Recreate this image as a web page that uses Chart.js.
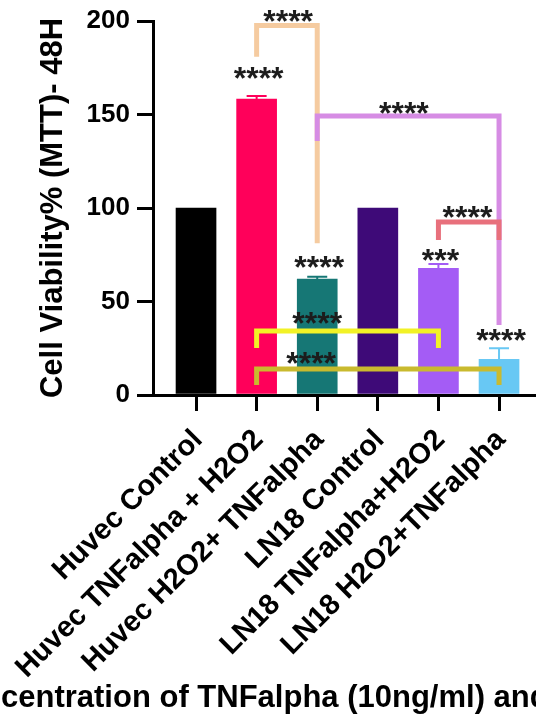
<!DOCTYPE html>
<html>
<head>
<meta charset="utf-8">
<script src="https://cdn.jsdelivr.net/npm/chart.js@4"></script>
<style>
  html, body { margin: 0; padding: 0; background: #ffffff; }
  #wrap { width: 536px; height: 718px; position: relative; }
</style>
</head>
<body>
<div id="wrap"><canvas id="c" width="536" height="718"></canvas></div>
<script>
// Cell viability (MTT, 48 h) per treatment group
const groups = ['Huvec Control', 'Huvec TNFalpha + H2O2', 'Huvec H2O2+ TNFalpha',
                'LN18 Control', 'LN18 TNFalpha+H2O2', 'LN18 H2O2+TNFalpha'];
const viability = [100, 158.3, 62.0, 100, 67.7, 19.1];
const sdUpper = [0, 1.6, 1.3, 0, 2.3, 5.9];
const barColors = ['#000000', '#FF005A', '#167775', '#3E0A78', '#A45CF5', '#68C8F4'];
const yTicks = [0, 50, 100, 150, 200];

// significance stars over single bars
const barStarText = ['', '****', '****', '', '***', '****'];
const barStarY = [null, 172.0, 71.1, null, 74.9, 32.1];

// comparison brackets between groups
const bracketFrom = [1, 2, 4, 1, 1];
const bracketTo = [2, 5, 5, 4, 5];
const bracketTop = [197.6, 149.2, 92.5, 34.2, 13.9];
const bracketLeftEnd = [180.9, 135.8, 82.9, 25.1, 5.3];
const bracketRightEnd = [81.1, 37.4, 82.9, 25.1, 5.3];
const bracketColors = ['#F5CBA0', '#D68CE4', '#E8707C', '#F2F226', '#C9BA2E'];
const bracketStarText = ['****', '****', '****', '****', '****'];
const bracketStarX = [1.52, 3.43, 4.48, 2.0, 1.9];
const bracketStarY = [202.8, 153.3, 97.9, 41.2, 19.8];

const xTitle = 'Concentration of TNFalpha (10ng/ml) and H2O2';
const FONT = '"Liberation Sans", Arial, Helvetica, sans-serif';

const annotate = {
  id: 'annotate',
  afterDatasetsDraw(chart) {
    const { ctx, scales: { x, y } } = chart;
    ctx.save();

    // upper error bars
    viability.forEach((v, i) => {
      if (!sdUpper[i]) return;
      const px = x.getPixelForValue(i);
      const top = y.getPixelForValue(v);
      const tip = y.getPixelForValue(v + sdUpper[i]);
      ctx.strokeStyle = barColors[i];
      ctx.lineWidth = 2;
      ctx.beginPath();
      ctx.moveTo(px, top); ctx.lineTo(px, tip);
      ctx.moveTo(px - 10, tip); ctx.lineTo(px + 10, tip);
      ctx.stroke();
    });

    // brackets
    ctx.lineWidth = 5;
    ctx.lineJoin = 'miter';
    ctx.lineCap = 'butt';
    bracketFrom.forEach((f, k) => {
      const x1 = x.getPixelForValue(f);
      const x2 = x.getPixelForValue(bracketTo[k]);
      ctx.strokeStyle = bracketColors[k];
      ctx.beginPath();
      ctx.moveTo(x1, y.getPixelForValue(bracketLeftEnd[k]));
      ctx.lineTo(x1, y.getPixelForValue(bracketTop[k]));
      ctx.lineTo(x2, y.getPixelForValue(bracketTop[k]));
      ctx.lineTo(x2, y.getPixelForValue(bracketRightEnd[k]));
      ctx.stroke();
    });

    // stars
    ctx.font = 'bold 32px ' + FONT;
    ctx.fillStyle = '#1c1c1c';
    ctx.textAlign = 'center';
    ctx.textBaseline = 'alphabetic';
    const m = ctx.measureText('*');
    const mid = (m.actualBoundingBoxAscent - m.actualBoundingBoxDescent) / 2;
    barStarText.forEach((t, i) => {
      if (!t) return;
      ctx.fillText(t, x.getPixelForValue(i) + 2, y.getPixelForValue(barStarY[i]) + mid);
    });
    bracketStarText.forEach((t, k) => {
      ctx.fillText(t, x.getPixelForValue(bracketStarX[k]), y.getPixelForValue(bracketStarY[k]) + mid);
    });
    ctx.restore();
  },
  afterDraw(chart) {
    const { ctx } = chart;
    ctx.save();
    ctx.font = 'bold 31px ' + FONT;
    ctx.fillStyle = '#000';
    ctx.textAlign = 'left';
    ctx.textBaseline = 'alphabetic';
    const lead = ctx.measureText('Con').width;
    ctx.fillText(xTitle, 1 - lead, 707);
    ctx.restore();
  }
};

new Chart(document.getElementById('c'), {
  type: 'bar',
  data: {
    datasets: [{
      data: groups.map((g, i) => ({ x: i, y: viability[i] })),
      backgroundColor: barColors,
      borderWidth: 0,
      barThickness: 40
    }]
  },
  options: {
    responsive: false,
    animation: false,
    devicePixelRatio: 1,
    layout: { padding: { top: 21, right: 0, bottom: 0, left: 0 } },
    plugins: { legend: { display: false }, tooltip: { enabled: false } },
    scales: {
      x: {
        type: 'linear',
        min: -0.71,
        max: 5.61,
        offset: false,
        grid: { offset: false, drawOnChartArea: false, drawTicks: true, tickLength: 16,
                tickWidth: 3, tickColor: '#000', color: '#000', lineWidth: 3 },
        border: { color: '#000', width: 3 },
        afterBuildTicks: s => { s.ticks = groups.map((g, i) => ({ value: i })); },
        ticks: {
          autoSkip: false, maxRotation: 45, minRotation: 45,
          labelOffset: 2, padding: 12, color: '#000',
          font: { family: FONT, size: 29, weight: 'bold' },
          callback: v => groups[v]
        },
        afterFit: s => { s.height = 323; s.paddingLeft = 0; s.paddingRight = 0; }
      },
      y: {
        min: 0,
        max: 200,
        grid: { drawOnChartArea: false, drawTicks: true, tickLength: 16,
                tickWidth: 3, tickColor: '#000', color: '#000', lineWidth: 3 },
        border: { color: '#000', width: 3 },
        afterBuildTicks: s => { s.ticks = yTicks.map(v => ({ value: v })); },
        ticks: { padding: 7, color: '#000', font: { family: FONT, size: 26, weight: 'bold' } },
        title: {
          display: true,
          text: 'Cell Viability% (MTT)- 48H',
          color: '#000',
          font: { family: FONT, size: 31, weight: 'bold' },
          padding: { top: 35, bottom: 0 }
        },
        afterFit: s => { s.width = 153; s.paddingTop = 0; s.paddingBottom = 0; }
      }
    }
  },
  plugins: [annotate]
});
</script>
</body>
</html>
